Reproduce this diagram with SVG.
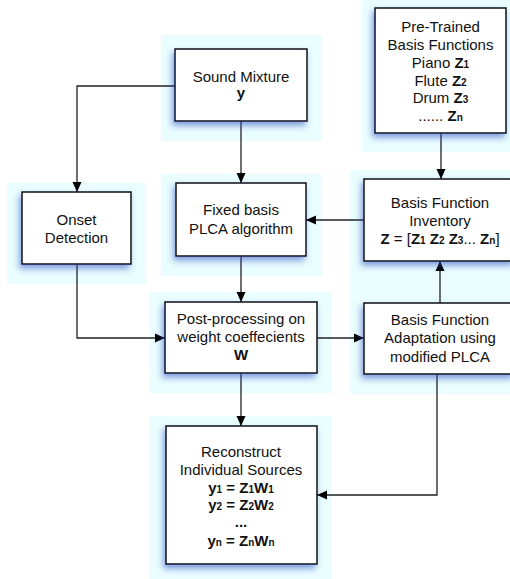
<svg xmlns="http://www.w3.org/2000/svg" width="510" height="579" viewBox="0 0 510 579">
<style>
.bg{fill:#eafdff;stroke:none}
.box{fill:#fff;stroke:#111;stroke-width:1.5;filter:url(#sh)}
text{font-family:"Liberation Sans",Arial,sans-serif;font-size:15px;fill:#111;text-anchor:middle}
.b{font-weight:bold}
.s{font-size:10px;font-weight:bold}
.c{fill:none;stroke:#222;stroke-width:1.3}
</style>
<defs>
<filter id="sh" x="-20%" y="-20%" width="140%" height="150%">
<feGaussianBlur in="SourceAlpha" stdDeviation="3"/>
<feOffset dx="-2" dy="4" result="o"/>
<feFlood flood-color="#2a4fc0" flood-opacity="0.55"/>
<feComposite in2="o" operator="in"/>
<feMerge><feMergeNode/><feMergeNode in="SourceGraphic"/></feMerge>
</filter>
<marker id="ah" viewBox="0 0 10 10" refX="10" refY="5" markerWidth="10" markerHeight="10" markerUnits="userSpaceOnUse" orient="auto">
<path d="M0,0.5 L10,5 L0,9.5 Z" fill="#000"/>
</marker>
</defs>
<g id="backgrounds">
<rect class="bg" x="362" y="0" width="148" height="152"/>
<rect class="bg" x="161" y="35" width="161" height="106"/>
<rect class="bg" x="161" y="174" width="161" height="102"/>
<rect class="bg" x="7" y="183" width="139" height="101"/>
<rect class="bg" x="350" y="170" width="160" height="224"/>
<rect class="bg" x="150" y="292" width="182" height="101"/>
<rect class="bg" x="150" y="416" width="182" height="163"/>
</g>
<g id="connectors">
<path class="c" d="M241,121 V183" marker-end="url(#ah)"/>
<path class="c" d="M175,86 H77 V192" marker-end="url(#ah)"/>
<path class="c" d="M241,256 V302" marker-end="url(#ah)"/>
<path class="c" d="M77,264 V338 H165" marker-end="url(#ah)"/>
<path class="c" d="M317,338 H364" marker-end="url(#ah)"/>
<path class="c" d="M440,303 V261" marker-end="url(#ah)"/>
<path class="c" d="M364,220 H306" marker-end="url(#ah)"/>
<path class="c" d="M441,133 V179" marker-end="url(#ah)"/>
<path class="c" d="M241,373 V426" marker-end="url(#ah)"/>
<path class="c" d="M437,374 V495 H317" marker-end="url(#ah)"/>
</g>
<g id="pretrained">
<rect class="box" x="375" y="8" width="131" height="125"/>
<text x="440.5" y="32">Pre-Trained</text>
<text x="440.5" y="50">Basis Functions</text>
<text x="440.5" y="68">Piano  <tspan class="b">Z</tspan><tspan class="s">1</tspan></text>
<text x="440.5" y="86">Flute  <tspan class="b">Z</tspan><tspan class="s">2</tspan></text>
<text x="440.5" y="103">Drum  <tspan class="b">Z</tspan><tspan class="s">3</tspan></text>
<text x="440.5" y="121">......  <tspan class="b">Z</tspan><tspan class="s">n</tspan></text>
</g>
<g id="mixture">
<rect class="box" x="175" y="49" width="132" height="72"/>
<text x="241" y="82">Sound Mixture</text>
<text x="241" y="98" class="b">y</text>
</g>
<g id="onset">
<rect class="box" x="22" y="192" width="109" height="72"/>
<text x="76.5" y="225">Onset</text>
<text x="76.5" y="243">Detection</text>
</g>
<g id="fixed">
<rect class="box" x="176" y="183" width="130" height="73"/>
<text x="241" y="215">Fixed basis</text>
<text x="241" y="234">PLCA algorithm</text>
</g>
<g id="inventory">
<rect class="box" x="364" y="179" width="150" height="82"/>
<text x="440" y="208">Basis Function</text>
<text x="440" y="226">Inventory</text>
<text x="440" y="244"><tspan class="b">Z</tspan> = [<tspan class="b">Z</tspan><tspan class="s">1</tspan> <tspan class="b">Z</tspan><tspan class="s">2</tspan> <tspan class="b">Z</tspan><tspan class="s">3</tspan>... <tspan class="b">Z</tspan><tspan class="s">n</tspan>]</text>
</g>
<g id="postproc">
<rect class="box" x="165" y="302" width="152" height="71"/>
<text x="241" y="324">Post-processing on</text>
<text x="241" y="342">weight coeffecients</text>
<text x="241" y="360" class="b">W</text>
</g>
<g id="adaptation">
<rect class="box" x="364" y="303" width="150" height="71"/>
<text x="440" y="325">Basis Function</text>
<text x="440" y="343">Adaptation using</text>
<text x="440" y="362">modified PLCA</text>
</g>
<g id="reconstruct">
<rect class="box" x="166" y="426" width="151" height="138"/>
<text x="241" y="457">Reconstruct</text>
<text x="241" y="475">Individual Sources</text>
<text x="241" y="493" class="b">y<tspan class="s">1</tspan> = Z<tspan class="s">1</tspan>W<tspan class="s">1</tspan></text>
<text x="241" y="510" class="b">y<tspan class="s">2</tspan> = Z<tspan class="s">2</tspan>W<tspan class="s">2</tspan></text>
<text x="241" y="527" class="b">...</text>
<text x="241" y="546" class="b">y<tspan class="s">n</tspan> = Z<tspan class="s">n</tspan>W<tspan class="s">n</tspan></text>
</g>
</svg>
